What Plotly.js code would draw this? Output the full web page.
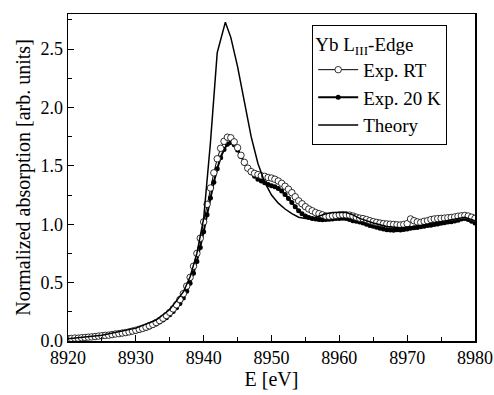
<!DOCTYPE html>
<html><head><meta charset="utf-8">
<script src="https://cdn.plot.ly/plotly-3.0.1.min.js"></script>
<style>html,body{margin:0;padding:0;background:#fff}#chart{width:494px;height:395px}</style>
</head><body><div id="chart"></div>
<script>
const energy = [
8920.0,8920.5,8921.0,8921.5,8922.0,8922.5,8923.0,8923.5,8924.0,8924.5,
8925.0,8925.5,8926.0,8926.5,8927.0,8927.5,8928.0,8928.5,8929.0,8929.5,
8930.0,8930.5,8931.0,8931.5,8932.0,8932.5,8933.0,8933.5,8934.0,8934.5,
8935.0,8935.5,8936.0,8936.5,8937.0,8937.5,8938.0,8938.5,8939.0,8939.5,
8940.0,8940.5,8941.0,8941.5,8942.0,8942.5,8943.0,8943.5,8944.0,8944.5,
8945.0,8945.5,8946.0,8946.5,8947.0,8947.5,8948.0,8948.5,8949.0,8949.5,
8950.0,8950.5,8951.0,8951.5,8952.0,8952.5,8953.0,8953.5,8954.0,8954.5,
8955.0,8955.5,8956.0,8956.5,8957.0,8957.5,8958.0,8958.5,8959.0,8959.5,
8960.0,8960.5,8961.0,8961.5,8962.0,8962.5,8963.0,8963.5,8964.0,8964.5,
8965.0,8965.5,8966.0,8966.5,8967.0,8967.5,8968.0,8968.5,8969.0,8969.5,
8970.0,8970.5,8971.0,8971.5,8972.0,8972.5,8973.0,8973.5,8974.0,8974.5,
8975.0,8975.5,8976.0,8976.5,8977.0,8977.5,8978.0,8978.5,8979.0,8979.5,
8980.0];
const expRT = [
0.020,0.022,0.025,0.024,0.028,0.030,0.033,0.035,0.038,0.042,
0.045,0.048,0.050,0.055,0.060,0.063,0.068,0.072,0.078,0.085,
0.092,0.100,0.108,0.118,0.130,0.142,0.158,0.175,0.195,0.218,
0.245,0.275,0.310,0.355,0.405,0.470,0.545,0.640,0.750,0.880,
1.020,1.170,1.310,1.440,1.560,1.650,1.710,1.745,1.740,1.705,
1.655,1.590,1.530,1.480,1.450,1.435,1.425,1.415,1.410,1.400,
1.395,1.385,1.370,1.350,1.325,1.300,1.270,1.235,1.200,1.175,
1.150,1.130,1.115,1.100,1.090,1.080,1.070,1.068,1.072,1.075,
1.080,1.082,1.080,1.078,1.070,1.060,1.052,1.048,1.040,1.030,
1.022,1.015,1.010,1.005,1.002,1.000,0.998,0.995,0.993,0.998,
1.005,1.045,1.030,1.020,1.015,1.025,1.030,1.040,1.045,1.048,
1.050,1.052,1.055,1.058,1.062,1.068,1.072,1.075,1.070,1.060,
1.050];
const exp20K = [
0.018,0.020,0.022,0.024,0.026,0.028,0.030,0.032,0.035,0.038,
0.041,0.044,0.047,0.051,0.055,0.059,0.063,0.068,0.073,0.079,
0.086,0.093,0.101,0.110,0.120,0.132,0.146,0.162,0.180,0.200,
0.224,0.252,0.284,0.322,0.368,0.425,0.495,0.580,0.680,0.800,
0.935,1.080,1.225,1.360,1.475,1.570,1.640,1.685,1.700,1.680,
1.635,1.580,1.525,1.475,1.440,1.410,1.385,1.370,1.355,1.340,
1.330,1.320,1.305,1.285,1.255,1.220,1.185,1.150,1.115,1.090,
1.070,1.058,1.050,1.045,1.040,1.038,1.040,1.042,1.045,1.048,
1.050,1.052,1.048,1.040,1.030,1.025,1.018,1.010,1.000,0.990,
0.982,0.975,0.965,0.958,0.952,0.950,0.948,0.952,0.950,0.955,
0.960,0.965,0.970,0.972,0.978,0.982,0.988,0.992,0.998,1.002,
1.008,1.012,1.018,1.022,1.028,1.035,1.045,1.048,1.040,1.025,
1.010];
const theoryE = [8920,8925,8930,8933,8935,8937,8938,8939,8940,8941,8942,8943.2,8944,8945,8946,8947,8948,8949,8950,8951,8952,8953,8954,8955,8956,8957,8958,8959,8960,8961,8962,8963,8965,8967,8969,8971,8973,8975,8977,8978.5,8980];
const theory = [0.02,0.05,0.11,0.18,0.27,0.42,0.55,0.75,1.05,1.70,2.47,2.73,2.60,2.35,2.05,1.75,1.52,1.36,1.25,1.18,1.13,1.09,1.06,1.05,1.05,1.07,1.09,1.10,1.10,1.10,1.08,1.05,1.01,0.98,0.97,0.98,1.00,1.02,1.04,1.06,1.03];
const names = ['Exp. RT','Exp. 20 K','Theory'];

const FONT = 'Liberation Serif';
const traces = [
  {x: energy, y: exp20K, name: names[1], mode: 'lines+markers', legendrank: 2,
   line: {color: '#000', width: 2}, marker: {symbol: 'circle', size: 5, color: '#000'}},
  {x: energy, y: expRT, name: names[0], mode: 'lines+markers', legendrank: 1,
   line: {color: '#000', width: 1}, marker: {symbol: 'circle', size: 6.5, color: '#fff', line: {color: '#000', width: 0.8}}},
  {x: theoryE, y: theory, name: names[2], mode: 'lines', legendrank: 3,
   line: {color: '#000', width: 1.5}}
];
const layout = {
  width: 494, height: 395,
  margin: {l: 68, r: 19, t: 14, b: 54},
  paper_bgcolor: '#fff', plot_bgcolor: '#fff',
  font: {family: FONT, size: 16, color: '#000'},
  showlegend: true,
  legend: {x: 0.6, y: 0.966, xanchor: 'left', yanchor: 'top',
    bordercolor: '#000', borderwidth: 1, bgcolor: '#fff',
    font: {family: FONT, size: 19}, tracegroupgap: 0, itemwidth: 40,
    title: {text: 'Yb L<sub>III</sub>-Edge', font: {family: FONT, size: 19}}},
  xaxis: {range: [8920, 8980], tickvals: [8920,8930,8940,8950,8960,8970,8980],
    ticks: 'inside', ticklen: 6, tickwidth: 1, tickcolor: '#000',
    minor: {dtick: 5, ticks: 'inside', ticklen: 4, tickcolor: '#000'},
    showline: true, linecolor: '#000', linewidth: 1.5, mirror: true,
    showgrid: false, zeroline: false,
    tickfont: {family: FONT, size: 18},
    title: {text: 'E [eV]', font: {family: FONT, size: 20}, standoff: 4}},
  yaxis: {range: [0, 2.8], tickvals: [0,0.5,1,1.5,2,2.5], ticktext: ['0.0','0.5','1.0','1.5','2.0','2.5'],
    ticks: 'inside', ticklen: 6, tickwidth: 1, tickcolor: '#000',
    minor: {dtick: 0.25, ticks: 'inside', ticklen: 4, tickcolor: '#000'},
    showline: true, linecolor: '#000', linewidth: 1.5, mirror: true,
    showgrid: false, zeroline: false,
    tickfont: {family: FONT, size: 18},
    title: {text: 'Normalized absorption [arb. units]', font: {family: FONT, size: 20}, standoff: 4}}
};
Plotly.newPlot('chart', traces, layout, {displayModeBar: false, staticPlot: true});
</script></body></html>
